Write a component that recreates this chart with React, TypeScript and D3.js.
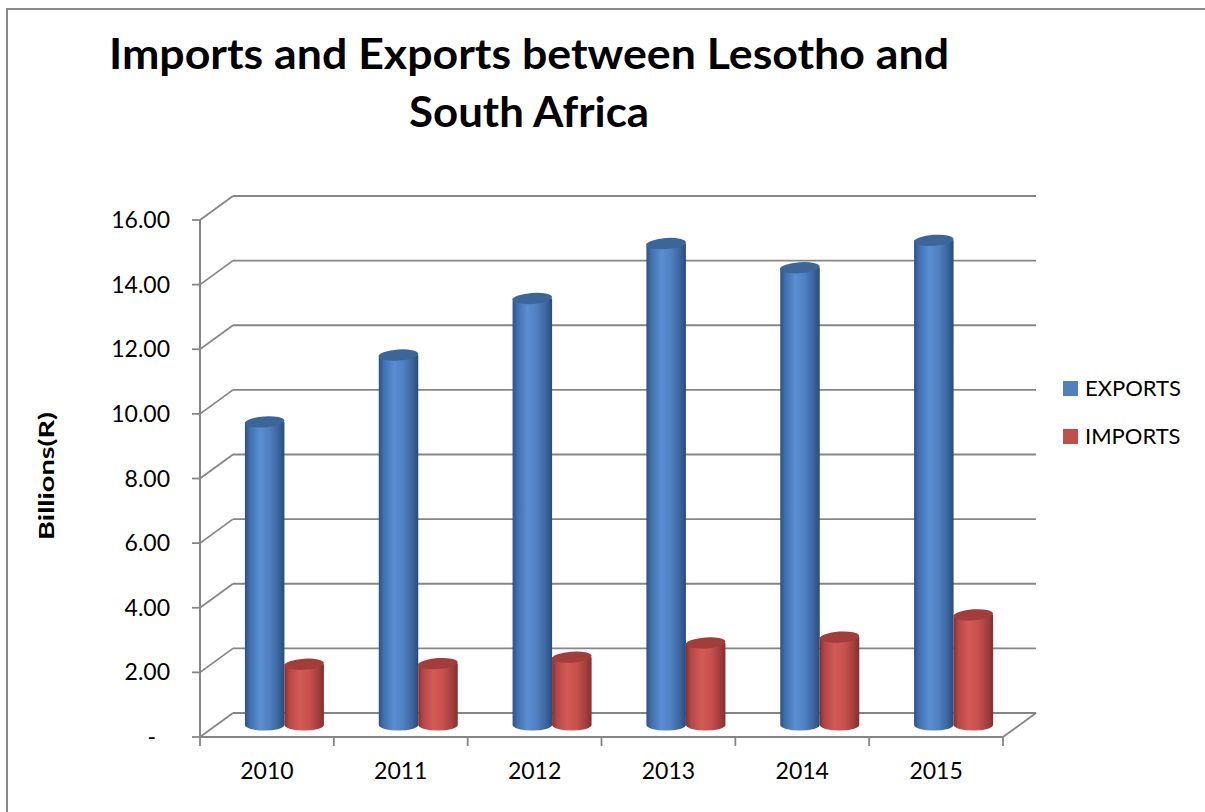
import React from "react";
import * as d3 from "d3";

const years = ["2010", "2011", "2012", "2013", "2014", "2015"];
const seriesNames = ["EXPORTS", "IMPORTS"];
const exportsVals = [9.38, 11.45, 13.2, 14.9, 14.15, 15.0];
const importsVals = [1.88, 1.9, 2.1, 2.54, 2.72, 3.41];
const yTicks = [0, 2, 4, 6, 8, 10, 12, 14, 16];
const titleLines = ["Imports and Exports between Lesotho and", "South Africa"];
const yTitle = "Billions(R)";

const W = 1205;
const H = 812;
const DX = 33;
const DY = -24;
const GRID = "#868686";
const FONT = "Lato, 'Open Sans', sans-serif";

export default function App() {
  const x = d3.scaleBand<string>().domain(years).range([200, 1003]).padding(0);
  const yF = d3.scaleLinear().domain([0, 16]).range([737, 220]);
  const sub = d3.scaleBand<string>().domain(seriesNames).range([-39.5, 39.5]).padding(0);
  const fmt = d3.format(".2f");
  const values = [exportsVals, importsVals];
  const rx = sub.bandwidth() / 2;
  const ry = 5.5;

  const xLeft = x.range()[0];
  const xRight = x.range()[1];

  return (
    <svg width={W} height={H} style={{ position: "absolute", left: 0, top: 0 }} fontFamily={FONT}>
      <defs>
        <linearGradient id="gB" x1="0" x2="1" y1="0" y2="0">
          <stop offset="0" stopColor="#2c5283" />
          <stop offset="0.12" stopColor="#3f6fae" />
          <stop offset="0.38" stopColor="#5a8ed2" />
          <stop offset="0.62" stopColor="#4f80c2" />
          <stop offset="0.85" stopColor="#3b659e" />
          <stop offset="1" stopColor="#2a4b78" />
        </linearGradient>
        <linearGradient id="gR" x1="0" x2="1" y1="0" y2="0">
          <stop offset="0" stopColor="#8a2e2c" />
          <stop offset="0.12" stopColor="#b44745" />
          <stop offset="0.38" stopColor="#d25a57" />
          <stop offset="0.62" stopColor="#c8514e" />
          <stop offset="0.85" stopColor="#a43f3d" />
          <stop offset="1" stopColor="#83302e" />
        </linearGradient>
      </defs>
      <rect x={0} y={0} width={W} height={H} fill="#fff" />
      <rect x={7} y={9} width={W + 50} height={H + 50} fill="none" stroke="#8a8a8a" strokeWidth={2} />

      {/* Title */}
      <text x={529} y={69} textAnchor="middle" fontWeight="bold" fontSize={42} textLength={840} lengthAdjust="spacingAndGlyphs">
        {titleLines[0]}
      </text>
      <text x={529} y={127} textAnchor="middle" fontWeight="bold" fontSize={42} textLength={240} lengthAdjust="spacingAndGlyphs">
        {titleLines[1]}
      </text>

      {/* Y title */}
      <text transform={`translate(54,476) rotate(-90)`} textAnchor="middle" fontWeight="bold" fontSize={21} textLength={128} lengthAdjust="spacingAndGlyphs">
        {yTitle}
      </text>

      {/* Grid: side wall diagonals and back wall lines */}
      {yTicks.map((t) => (
        <g key={"g" + t}>
          <line x1={xLeft} y1={yF(t)} x2={xLeft + DX} y2={yF(t) + DY} stroke={GRID} strokeWidth={1.8} />
          <line x1={xLeft + DX} y1={yF(t) + DY} x2={xRight + DX} y2={yF(t) + DY} stroke={GRID} strokeWidth={1.8} />
        </g>
      ))}
      {/* Floor front and right edges */}
      <line x1={xLeft} y1={yF(0)} x2={xRight} y2={yF(0)} stroke={GRID} strokeWidth={1.8} />
      <line x1={xRight} y1={yF(0)} x2={xRight + DX} y2={yF(0) + DY} stroke={GRID} strokeWidth={1.8} />

      {/* Vertical axis */}
      <line x1={xLeft} y1={yF(16)} x2={xLeft} y2={yF(0)} stroke={GRID} strokeWidth={2} />
      {yTicks.map((t) => (
        <g key={"t" + t}>
          <line x1={xLeft - 8} y1={yF(t)} x2={xLeft} y2={yF(t)} stroke={GRID} strokeWidth={1.8} />
          <text
            x={t === 0 ? 156 : 170}
            y={yF(t) + 8}
            textAnchor="end"
            fontSize={23}
            fill="#000"
          >
            {t === 0 ? "-" : fmt(t)}
          </text>
        </g>
      ))}

      {/* Category ticks */}
      {[...years.map((c) => x(c) as number), xRight].map((px, i) => (
        <line key={"ct" + i} x1={px} y1={yF(0)} x2={px} y2={yF(0) + 9} stroke={GRID} strokeWidth={1.8} />
      ))}
      {years.map((c) => (
        <text key={"cl" + c} x={(x(c) as number) + x.bandwidth() / 2} y={779} textAnchor="middle" fontSize={23} fill="#000">
          {c}
        </text>
      ))}

      {/* Cylinders */}
      {years.map((c, i) => {
        const cx0 = (x(c) as number) + x.bandwidth() / 2 + DX / 2 + 1;
        return (
          <g key={"cy" + c}>
            {seriesNames.map((s, si) => {
              const v = values[si][i];
              const left = cx0 + (sub(s) as number);
              const right = left + sub.bandwidth();
              const cxm = (left + right) / 2;
              const yb = yF(0) + DY / 2;
              const yt = yF(v) + DY / 2;
              const body = `M${left},${yt} L${left},${yb} A${rx},${ry} 0 0 0 ${right},${yb} L${right},${yt} Z`;
              return (
                <g key={s}>
                  <path d={body} fill={si === 0 ? "url(#gB)" : "url(#gR)"} />
                  <ellipse
                    cx={cxm}
                    cy={yt}
                    rx={rx}
                    ry={ry}
                    fill={si === 0 ? "#3c6698" : "#a13d3b"}
                    transform={`rotate(-4 ${cxm} ${yt})`}
                  />
                </g>
              );
            })}
          </g>
        );
      })}

      {/* Legend */}
      {seriesNames.map((s, i) => (
        <g key={"lg" + s} transform={`translate(1063,${381 + i * 48})`}>
          <rect x={0} y={0} width={15} height={15} fill={i === 0 ? "#4f81bd" : "#c0504d"} />
          <text x={22} y={15} fontSize={22} fill="#000">
            {s}
          </text>
        </g>
      ))}
    </svg>
  );
}
